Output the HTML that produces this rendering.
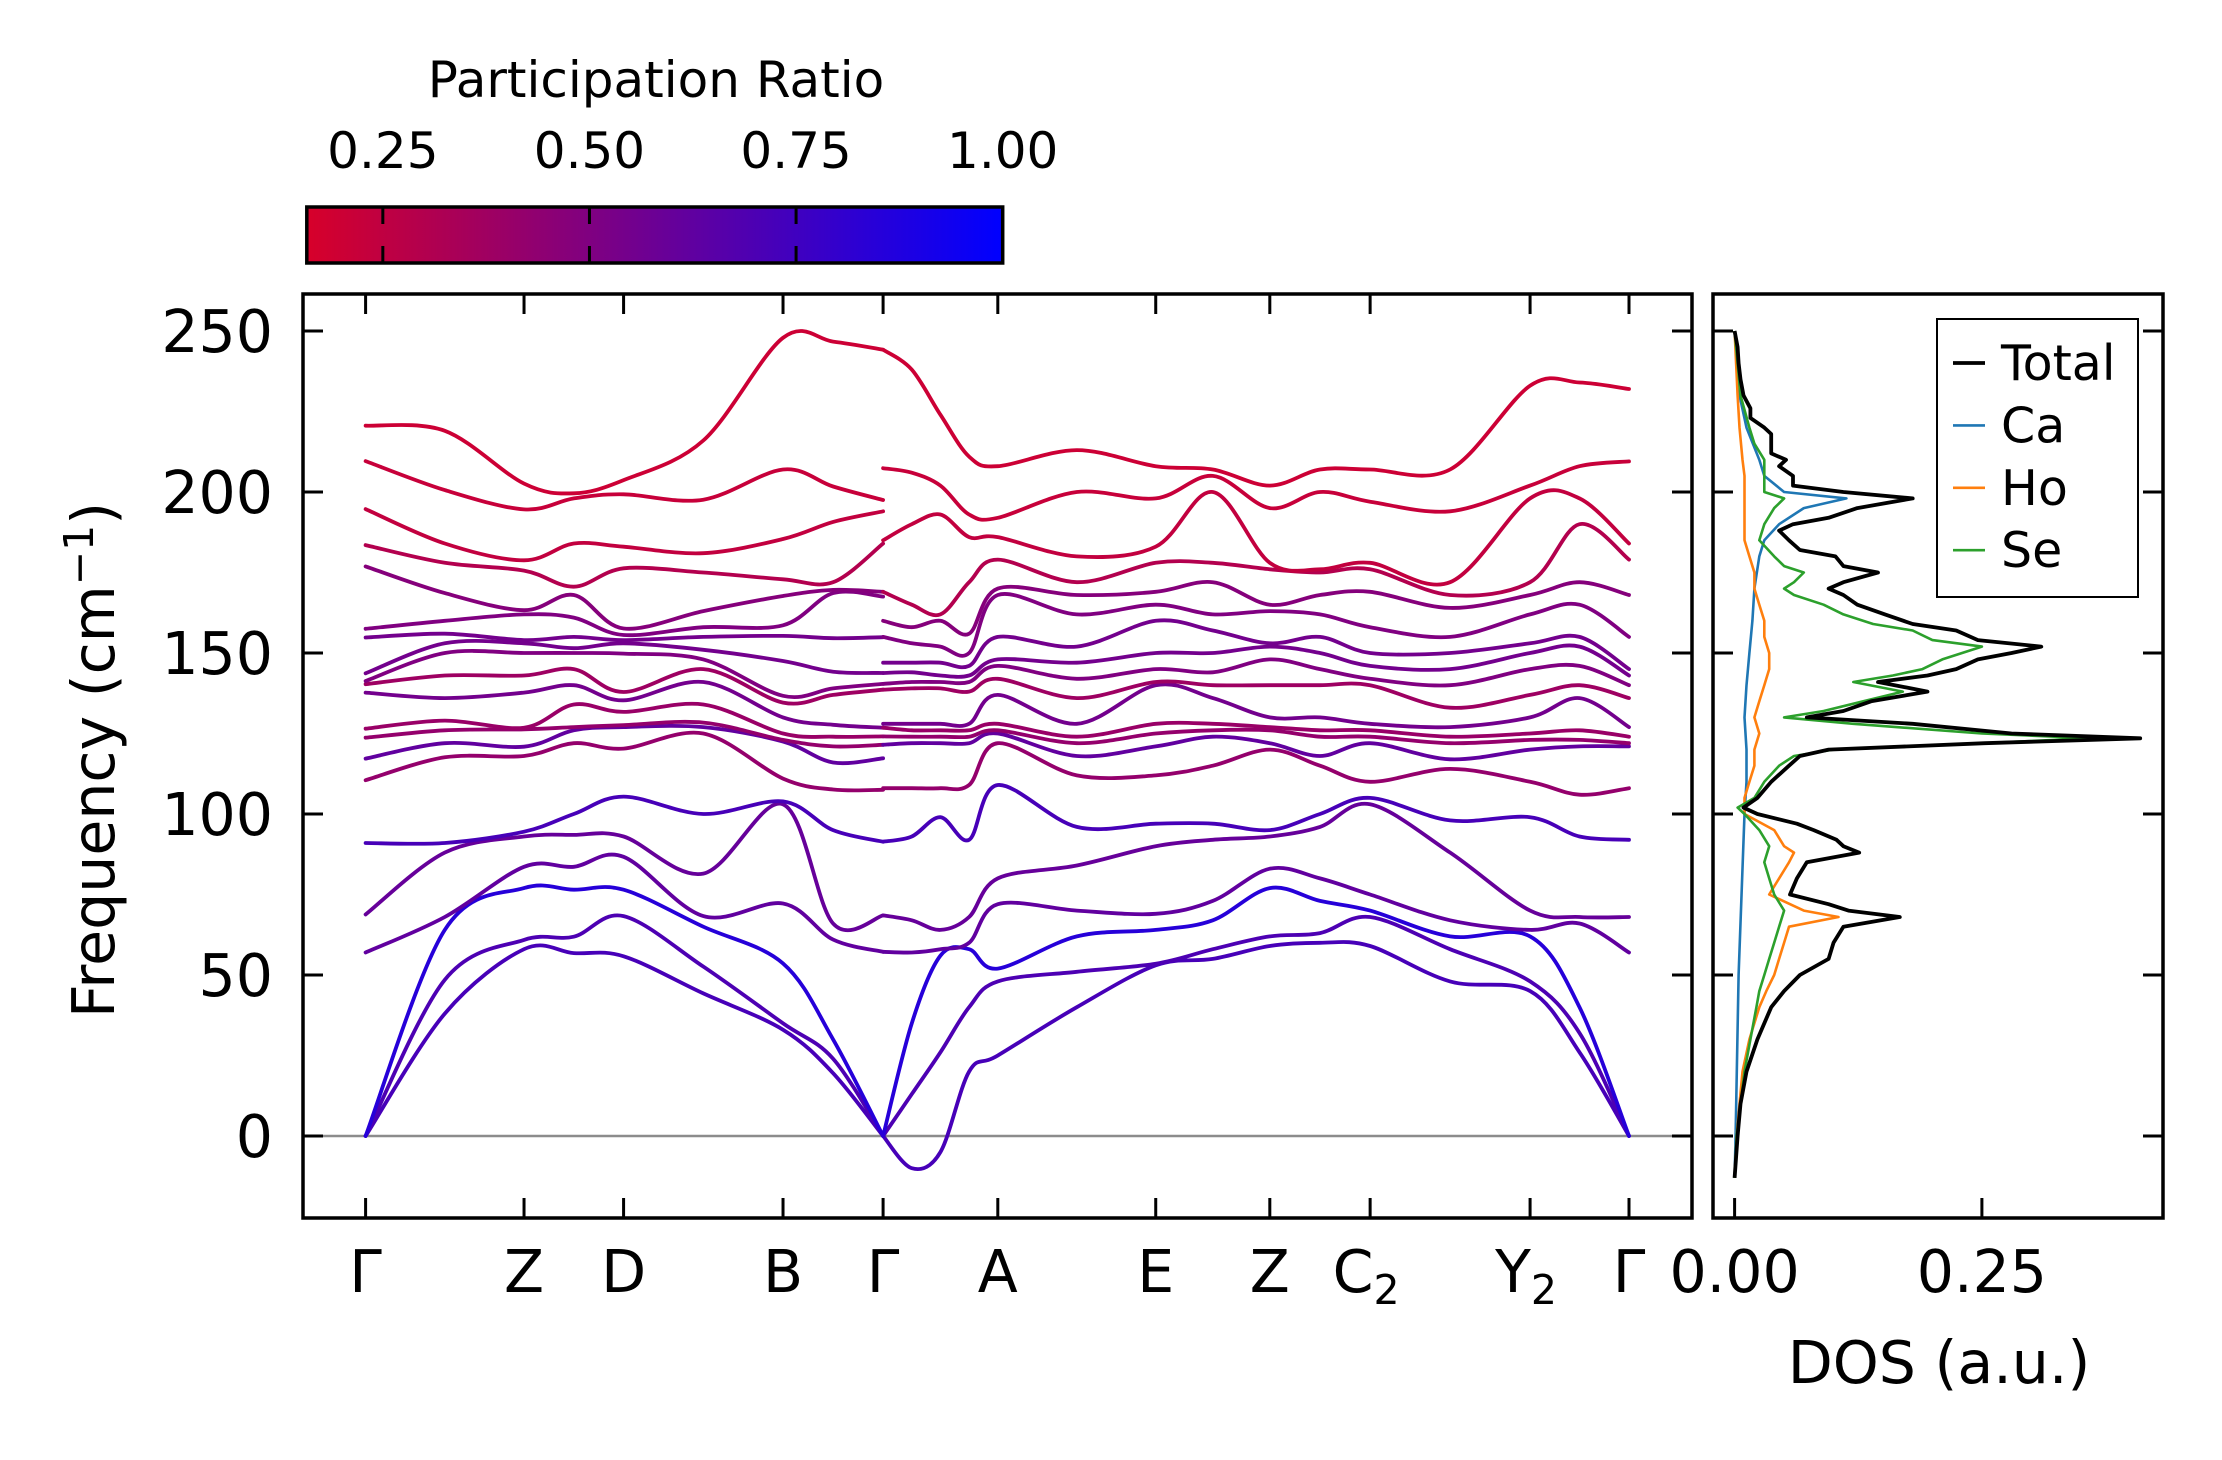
<!DOCTYPE html>
<html><head><meta charset="utf-8"><style>
html,body{margin:0;padding:0;background:#fff;}
svg text{font-family:"DejaVu Sans","Liberation Sans",sans-serif;}
</style></head><body>
<svg id="fig" xmlns="http://www.w3.org/2000/svg" width="2222" height="1455" viewBox="0 0 2222 1455">
<defs>
<linearGradient id="cbgrad" x1="0" x2="1" y1="0" y2="0">
<stop offset="0" stop-color="rgb(215,0,42)"/><stop offset="1" stop-color="rgb(0,0,255)"/>
</linearGradient>
<clipPath id="mainclip"><rect x="303" y="294" width="1389" height="924"/></clipPath>
<clipPath id="dosclip"><rect x="1713" y="294" width="450" height="924"/></clipPath>
</defs>
<rect x="0" y="0" width="2222" height="1455" fill="#fff"/>
<g id="colorbar">
<text x="656" y="97" font-size="50" text-anchor="middle">Participation Ratio</text>
<rect x="306.8" y="207" width="695.9" height="56" fill="url(#cbgrad)" stroke="#000" stroke-width="3.5"/>
</g>
<g id="main"></g>
<g id="dos"></g>
</svg>
<script>
// ---------- Colorbar data ----------
const cbTicks = [0.25, 0.50, 0.75, 1.00];
const cbTickLabels = ["0.25", "0.50", "0.75", "1.00"];
const cbMin = 0.158, cbMax = 1.0;

// ---------- Band structure data ----------
const hsLabels = ["Γ","Z","D","B","Γ","A","E","Z","C","Y","Γ"];
const hsSubs   = ["","","","","","","","","2","2",""];
const hsDist = [0, 0.1254, 0.2042, 0.3304, 0.4096, 0.5004, 0.6254, 0.7157, 0.7951, 0.9217, 1.0];
const yTicks = [0, 50, 100, 150, 200, 250];
// sample positions (in units of high-symmetry segment index)
const piece1Pos = [0, 0.5, 1, 1.5, 2, 2.5, 3, 3.5, 4];
const piece2Pos = [4, 4.25, 4.5, 4.75, 5, 5.5, 6, 6.5, 7, 7.5, 8, 8.5, 9, 9.5, 10];
// frequencies at each sample (cm^-1)
const colP1 = [
[0,0,0,57,68.8,91,110.5,117.2,123.7,126.5,137.7,140.3,141.3,143.7,154.8,157.5,176.9,183.5,194.7,209.6,220.6],
[38,48.5,64,68,88,91,117.6,122,126,129,136,143,150,153,156,160,168.6,178,184,200.6,219],
[58,60.9,77,83.6,93,94.5,118,120.9,126.3,126.8,137.7,143,150,153,154,162,163.3,175.6,178.8,194.6,202.6],
[56.8,61.9,76.5,83.6,93.5,100,122,126,127,134,140,145,150,151.5,155,161,168,170.6,184,198,199.6],
[55.8,68.3,76.5,86.7,93,105.4,120.3,127,127.6,131.7,135.3,137.9,149.8,153,154,155.6,157.6,176.3,183,199.3,203.7],
[44.3,52.6,65,68.3,81.5,100,125,127,128.4,134,141,145,148,151,155,158,163,175,181,197.6,216],
[33,35,53.6,72.2,103,103.9,111,122.5,123,125,130,134.6,136.7,147.5,155.3,158.6,167.7,172.9,185.4,207,247.9],
[19.5,24,30,61,66,95,107.6,116,121,124,127.7,137,139,144.2,154.6,168.6,169.6,172,190.7,201.7,246.7],
[0,0,0,57.2,68.5,91.4,107.5,117.3,121.5,124.1,126.8,138.6,140.4,143.8,154.9,167.5,169,184,194,197.5,244.2]
];
const colP2 = [
[0,0,0,57.2,68.5,91.4,108,121.5,124.1,126.8,128,138.6,140.4,143.8,147,155,160,169,185,207.4,244.2],
[-10,13,35,57,67,93,108,122,124,126,128,139,141,144,147,153,158,165,190,206,238],
[-5,26,56,58,64,99,108,122,124,126,128,139,141,143,147,152,160,162,193,202,224],
[20,40,58,60,68,92,109,122,124,126,128,138,141,143,146,150,156,172,186,193,211],
[25,48,52,72,80,109,122,125,126,128,137,142,146,148,155,168,170,179,186,192,208],
[40,51,62,70,84,96,112,118,122,124,128,136,142,147,152,162,168,172,180,200,213],
[53,53.5,64,69,90,97,112,121,125,128,140,141,145,150,160,165,169,178,183,198,208],
[55,58,67,73,92,97,115,124,126,128,136,140,144,150,157,162,172,178,200,205,207],
[59,62,77,83,93,95,120,122,126,127,130,140,148,152,153,163,165,176,178,195,202],
[60,63,73,80,96,100,115,118,124,126,130,140,145,150,155,162,168,175,176,200,207],
[59,68,70,75,103,105,110,122,124,126,128,140,142,146,150,158,169,176,178,197,207],
[48,58,62,67,88,98,114,117,122,124,127,133,140,145,150,155,164,168,172,194,207],
[45,48,62,64,70,99,110,120,123,125,130,137,145,150,153,162,168,172,198,202,233],
[26,32,40,66,68,93,106,121,123,126,136,140,146,152,155,165,172,190,198,208,234],
[0,0,0,57,68,92,108,121,122,124,127,136,140,143,145,155,168,179,184,209.5,232]
];
// participation ratio per band (sorted index)
const bandPR = [0.72,0.7,0.85,0.62,0.6,0.72,0.42,0.62,0.42,0.4,0.55,0.38,0.5,0.55,0.55,0.5,0.48,0.3,0.24,0.22,0.2];

// ---------- DOS data ----------
const totFreq = [-13,0,10,20,30,40,45,50,55,60,65,68,70,72,75,80,85,88,90,92,95,97,100,102,105,110,115,118,120,122,123.5,125,128,130,132,135,138,141,143,145,148,150,152,154,157,159,162,165,168,170,172,175,177,180,182,185,188,190,192,195,198,200,202,205,208,210,212,215,218,220,223,226,230,235,240,245,250];
const totVal = [0,0.003,0.006,0.012,0.023,0.037,0.05,0.066,0.095,0.1,0.11,0.167,0.115,0.095,0.056,0.063,0.073,0.126,0.11,0.103,0.08,0.063,0.023,0.009,0.023,0.037,0.055,0.066,0.095,0.253,0.41,0.28,0.18,0.073,0.11,0.138,0.195,0.145,0.195,0.224,0.246,0.28,0.31,0.246,0.224,0.18,0.152,0.124,0.11,0.095,0.11,0.145,0.11,0.102,0.066,0.055,0.045,0.059,0.095,0.124,0.18,0.11,0.059,0.059,0.045,0.052,0.037,0.037,0.037,0.03,0.016,0.016,0.009,0.006,0.004,0.003,0];
const seFreq = [-13,0,20,30,40,45,50,55,60,65,70,75,80,85,90,95,100,102,105,110,115,118,120,122,123.5,125,128,130,132,135,138,141,143,145,148,150,152,154,157,159,162,165,168,170,172,175,177,180,185,190,195,198,200,205,210,215,220,230,240,250];
const seVal = [0,0.002,0.01,0.016,0.022,0.025,0.03,0.035,0.04,0.045,0.05,0.04,0.035,0.03,0.035,0.025,0.01,0.003,0.02,0.03,0.045,0.06,0.1,0.25,0.36,0.25,0.12,0.05,0.09,0.13,0.17,0.12,0.16,0.19,0.21,0.23,0.25,0.2,0.18,0.14,0.11,0.09,0.06,0.05,0.06,0.07,0.05,0.04,0.025,0.03,0.04,0.05,0.03,0.03,0.03,0.02,0.015,0.006,0.003,0];
const hoFreq = [-13,0,20,30,40,45,50,55,60,65,68,70,75,80,85,88,90,95,100,105,110,115,120,125,130,135,140,145,150,155,160,165,170,175,180,185,190,195,200,205,210,220,230,250];
const hoVal = [0,0.002,0.008,0.015,0.025,0.032,0.04,0.045,0.05,0.055,0.105,0.07,0.035,0.045,0.055,0.06,0.05,0.04,0.01,0.01,0.015,0.02,0.02,0.025,0.02,0.025,0.03,0.035,0.035,0.03,0.03,0.025,0.02,0.02,0.015,0.01,0.01,0.01,0.01,0.01,0.008,0.005,0.003,0];
const caFreq = [-13,0,50,100,110,120,130,140,150,160,170,180,185,190,195,198,200,205,210,220,230,250];
const caVal = [0,0.001,0.004,0.01,0.012,0.012,0.01,0.012,0.015,0.018,0.02,0.025,0.03,0.045,0.07,0.113,0.05,0.03,0.025,0.012,0.005,0];
const dosTicks = [0, 0.25];
const dosTickLabels = ["0.00", "0.25"];
const legendNames = ["Total","Ca","Ho","Se"];
const legendColors = ["#000000","#1f77b4","#ff7f0e","#2ca02c"];

// ---------- geometry ----------
const NS = "http://www.w3.org/2000/svg";
const M = {l:303, r:1692, t:294, b:1218};
const D = {l:1713, r:2163};
const AX_FONT = 58.5;
function yOf(f){ return 1136 - 3.22*f; }
function xOfDist(d){ return 365.6 + d*1263.4; }
function xOfPos(p){
  const i = Math.min(Math.floor(p), hsDist.length-2);
  const fr = p - i;
  return xOfDist(hsDist[i] + fr*(hsDist[i+1]-hsDist[i]));
}
function xDos(v){ return 1734.6 + v*989.2; }
function cbX(v){ return 306.8 + (v-cbMin)/(cbMax-cbMin)*695.9; }
function prColor(pr){
  let t = (pr-cbMin)/(cbMax-cbMin); t = Math.max(0,Math.min(1,t));
  return `rgb(${Math.round(215*(1-t))},0,${Math.round(42+213*t)})`;
}
function mk(tag, attrs, parent){
  const e = document.createElementNS(NS, tag);
  for (const k in attrs) e.setAttribute(k, attrs[k]);
  parent.appendChild(e); return e;
}
function smoothPath(pts){
  let d = `M${pts[0][0].toFixed(1)},${pts[0][1].toFixed(1)}`;
  for (let i=0;i<pts.length-1;i++){
    const p0 = pts[Math.max(0,i-1)], p1 = pts[i], p2 = pts[i+1], p3 = pts[Math.min(pts.length-1,i+2)];
    const c1x = p1[0] + (p2[0]-p0[0])/6, c1y = p1[1] + (p2[1]-p0[1])/6;
    const c2x = p2[0] - (p3[0]-p1[0])/6, c2y = p2[1] - (p3[1]-p1[1])/6;
    d += ` C${c1x.toFixed(1)},${c1y.toFixed(1)} ${c2x.toFixed(1)},${c2y.toFixed(1)} ${p2[0].toFixed(1)},${p2[1].toFixed(1)}`;
  }
  return d;
}
function linePath(xs, ys){
  return xs.map((x,i)=>(i?'L':'M')+x.toFixed(1)+','+ys[i].toFixed(1)).join(' ');
}

// ---------- colorbar ticks ----------
const cb = document.getElementById('colorbar');
cbTicks.forEach((v,i)=>{
  const x = cbX(v);
  if (v < 0.999){
    const t1 = mk('line',{x1:x,x2:x,y1:207,y2:224,stroke:'#000','stroke-width':3},cb);
    
    
    const t2 = mk('line',{x1:x,x2:x,y1:246,y2:263,stroke:'#000','stroke-width':3},cb);
    
    
  }
  const tx = mk('text',{x:x,y:168,'font-size':50,'text-anchor':'middle'},cb);
  tx.textContent = cbTickLabels[i];
  
  
});

// ---------- main panel ----------
const mg = document.getElementById('main');
const zl = mk('line',{x1:M.l,x2:M.r,y1:yOf(0),y2:yOf(0),stroke:'#8c8c8c','stroke-width':2.5},mg);


const bandsG = mk('g',{'clip-path':'url(#mainclip)',fill:'none','stroke-width':3.8,'stroke-linecap':'round'},mg);


[[piece1Pos,colP1],[piece2Pos,colP2]].forEach(([pos,cols],pi)=>{
  const nb = cols[0].length;
  for (let b=0;b<nb;b++){
    const pts = pos.map((p,j)=>{
      const s = cols[j].slice().sort((a,c)=>a-c);
      return [xOfPos(p), yOf(s[b])];
    });
    const path = mk('path',{d:smoothPath(pts),stroke:prColor(bandPR[b])},bandsG);
    
    
  }
});
const frame = mk('rect',{x:M.l,y:M.t,width:M.r-M.l,height:M.b-M.t,fill:'none',stroke:'#000','stroke-width':3.5},mg);


yTicks.forEach(v=>{
  const y = yOf(v);
  mk('line',{x1:M.l,x2:M.l+20,y1:y,y2:y,stroke:'#000','stroke-width':3},mg);
  mk('line',{x1:M.r-20,x2:M.r,y1:y,y2:y,stroke:'#000','stroke-width':3},mg);
  const t = mk('text',{x:273,y:y+21,'font-size':AX_FONT,'text-anchor':'end'},mg);
  t.textContent = String(v);
  
  
});
hsDist.forEach((d,i)=>{
  const x = xOfDist(d);
  mk('line',{x1:x,x2:x,y1:M.t,y2:M.t+20,stroke:'#000','stroke-width':3},mg);
  mk('line',{x1:x,x2:x,y1:M.b-20,y2:M.b,stroke:'#000','stroke-width':3},mg);
  const t = mk('text',{x:x,y:1292,'font-size':AX_FONT,'text-anchor':'middle'},mg);
  
  
  t.textContent = hsLabels[i];
  if (hsSubs[i]){
    const s = mk('tspan',{'font-size':41,dy:12},t);
    s.textContent = hsSubs[i];
    t.setAttribute('x', x-4);
  }
});
const yl = mk('text',{x:0,y:0,'font-size':AX_FONT,'text-anchor':'middle',transform:'translate(114,760) rotate(-90)'},mg);


yl.textContent = 'Frequency (cm';
const sup = mk('tspan',{'font-size':41,dy:-21},yl); sup.textContent='−1';
const cl = mk('tspan',{dy:21},yl); cl.textContent=')';

// ---------- DOS panel ----------
const dg = document.getElementById('dos');
const dosLines = mk('g',{'clip-path':'url(#dosclip)',fill:'none','stroke-linejoin':'round'},dg);


const seriesList = [[caFreq,caVal,'#1f77b4',2.6,'dos-ca'],[hoFreq,hoVal,'#ff7f0e',2.6,'dos-ho'],[seFreq,seVal,'#2ca02c',2.6,'dos-se'],[totFreq,totVal,'#000',3.8,'dos-total']];
seriesList.forEach(([fq,vv,col,w,nm])=>{
  const p = mk('path',{d:linePath(vv.map(xDos), fq.map(yOf)),stroke:col,'stroke-width':w},dosLines);
  
  
});
const dframe = mk('rect',{x:D.l,y:M.t,width:D.r-D.l,height:M.b-M.t,fill:'none',stroke:'#000','stroke-width':3.5},dg);


yTicks.forEach(v=>{
  const y = yOf(v);
  mk('line',{x1:D.l,x2:D.l+20,y1:y,y2:y,stroke:'#000','stroke-width':3},dg);
  mk('line',{x1:D.r-20,x2:D.r,y1:y,y2:y,stroke:'#000','stroke-width':3},dg);
});
dosTicks.forEach((v,i)=>{
  const x = xDos(v);
  mk('line',{x1:x,x2:x,y1:M.b-20,y2:M.b,stroke:'#000','stroke-width':3},dg);
  const t = mk('text',{x:x,y:1292,'font-size':AX_FONT,'text-anchor':'middle'},dg);
  t.textContent = dosTickLabels[i];
  
  
});
const xl = mk('text',{x:1939,y:1383,'font-size':AX_FONT,'text-anchor':'middle'},dg);
xl.textContent = 'DOS (a.u.)';


// legend
const lg = mk('g',{},dg);


mk('rect',{x:1937,y:319,width:201,height:278,fill:'#fff',stroke:'#000','stroke-width':2},lg);
legendNames.forEach((n,i)=>{
  const y = 363 + i*62.4;
  const ln = mk('line',{x1:1953,x2:1985,y1:y,y2:y,stroke:legendColors[i],'stroke-width':i===0?3.8:2.6},lg);
  
  
  const t = mk('text',{x:2001,y:y+17,'font-size':49},lg);
  t.textContent = n;
  
  
});
</script>
</body></html>
